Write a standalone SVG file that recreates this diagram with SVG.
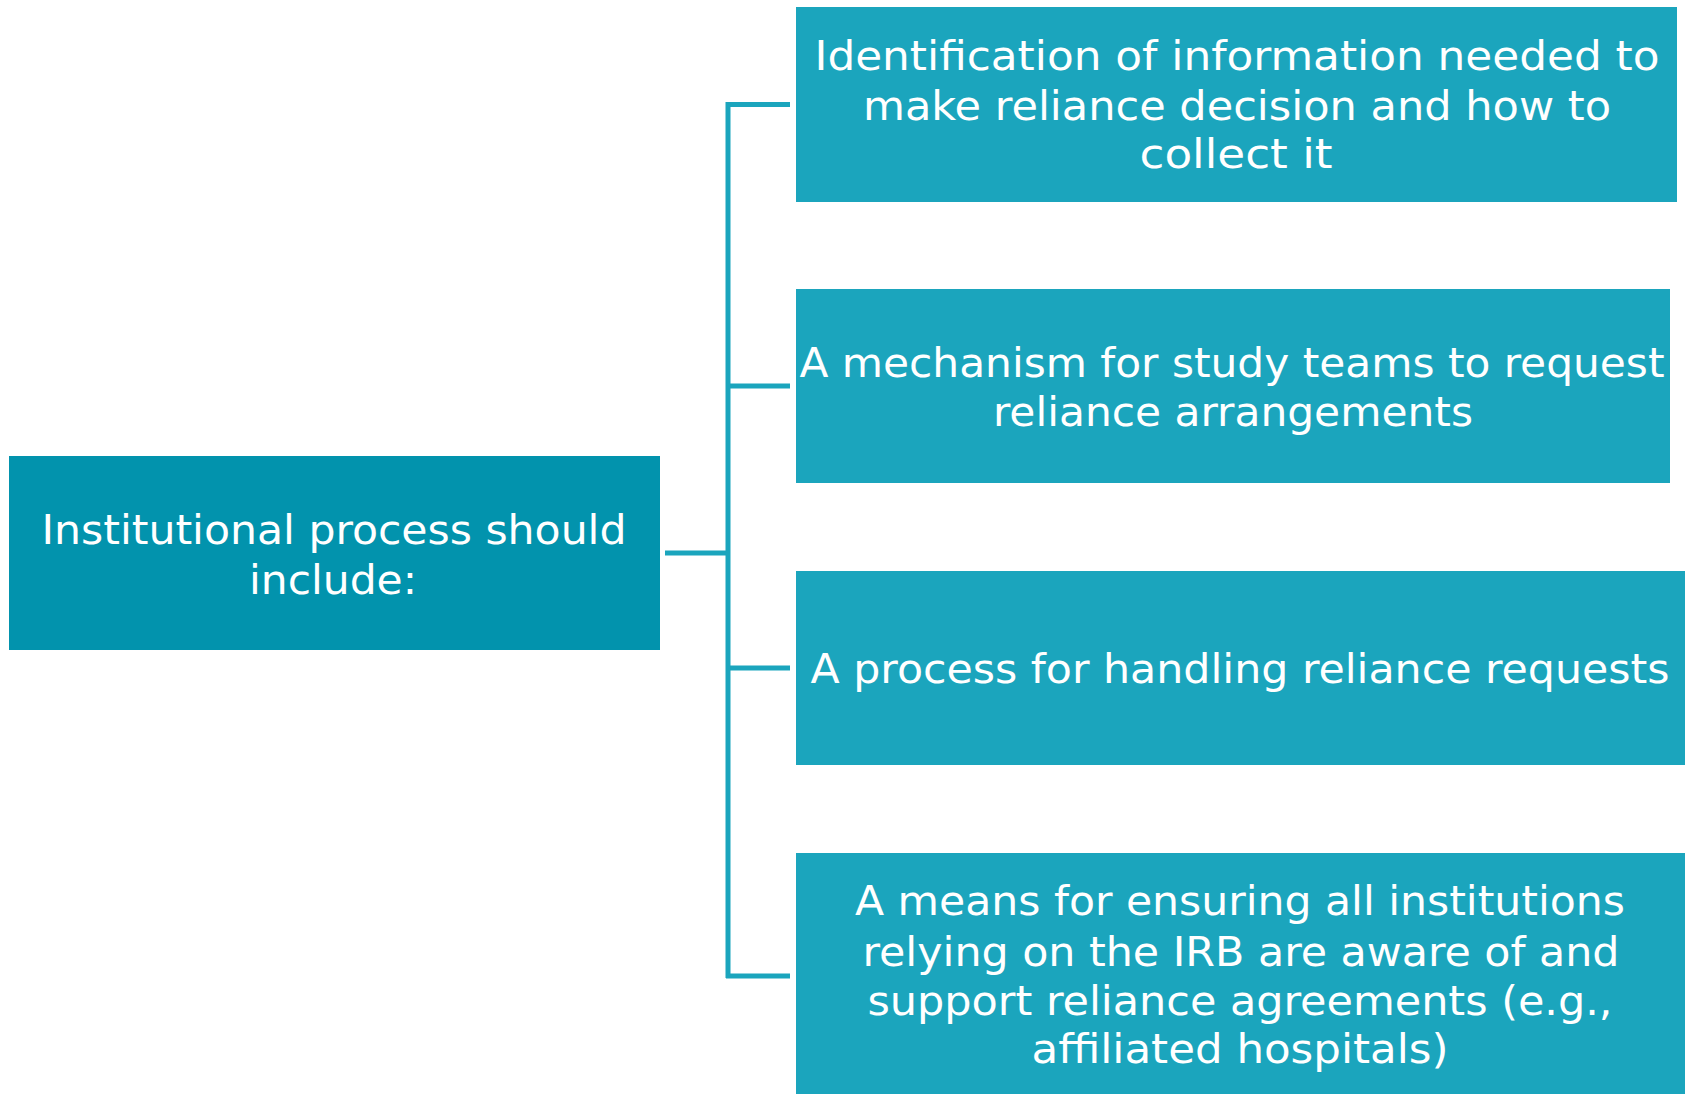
<svg xmlns="http://www.w3.org/2000/svg" width="1690" height="1094" viewBox="0 0 1690 1094">
<style>
.root{fill:#0293AD;}
.child{fill:#1BA5BD;}
.lbl{fill:#FFFFFF;font-family:"DejaVu Sans Condensed","Liberation Sans Narrow","DejaVu Sans",sans-serif;font-size:41px;text-anchor:middle;}
.conn{stroke:#1BA5BD;stroke-width:5;fill:none;}
</style>
<rect width="1690" height="1094" fill="#FFFFFF"/>
<g id="connectors">
<path class="conn" d="M665,553 H728 M728,102 V978 M726,104.5 H790 M728,386 H790 M728,668 H790 M726,976 H790"/>
</g>
<g id="root">
<rect class="root" x="9" y="456" width="651" height="194"/>
<text class="lbl" x="334" y="544" textLength="585" lengthAdjust="spacingAndGlyphs">Institutional process should</text>
<text class="lbl" x="333" y="594" textLength="168" lengthAdjust="spacingAndGlyphs">include:</text>
</g>
<g id="node1">
<rect class="child" x="796" y="7" width="881" height="195"/>
<text class="lbl" x="1237" y="70" textLength="845" lengthAdjust="spacingAndGlyphs">Identification of information needed to</text>
<text class="lbl" x="1237" y="120" textLength="748" lengthAdjust="spacingAndGlyphs">make reliance decision and how to</text>
<text class="lbl" x="1236" y="168" textLength="193" lengthAdjust="spacingAndGlyphs">collect it</text>
</g>
<g id="node2">
<rect class="child" x="796" y="289" width="874" height="194"/>
<text class="lbl" x="1232" y="377" textLength="865" lengthAdjust="spacingAndGlyphs">A mechanism for study teams to request</text>
<text class="lbl" x="1233" y="426" textLength="480" lengthAdjust="spacingAndGlyphs">reliance arrangements</text>
</g>
<g id="node3">
<rect class="child" x="796" y="571" width="889" height="194"/>
<text class="lbl" x="1240" y="683" textLength="859" lengthAdjust="spacingAndGlyphs">A process for handling reliance requests</text>
</g>
<g id="node4">
<rect class="child" x="796" y="853" width="889" height="250"/>
<text class="lbl" x="1240" y="915" textLength="770" lengthAdjust="spacingAndGlyphs">A means for ensuring all institutions</text>
<text class="lbl" x="1241" y="966" textLength="757" lengthAdjust="spacingAndGlyphs">relying on the IRB are aware of and</text>
<text class="lbl" x="1240" y="1015" textLength="745" lengthAdjust="spacingAndGlyphs">support reliance agreements (e.g.,</text>
<text class="lbl" x="1240" y="1063" textLength="417" lengthAdjust="spacingAndGlyphs">affiliated hospitals)</text>
</g>
</svg>
